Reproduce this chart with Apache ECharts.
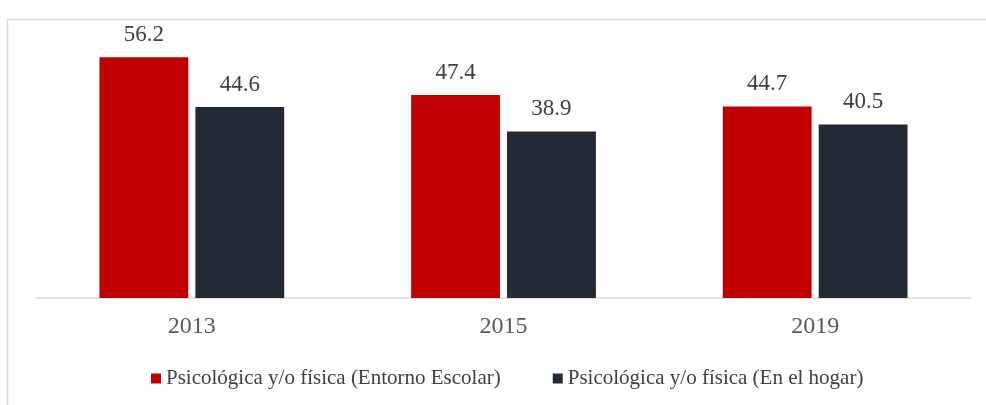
<!DOCTYPE html>
<html>
<head>
<meta charset="utf-8">
<script src="https://cdn.jsdelivr.net/npm/echarts@6/dist/echarts.min.js"></script>
<style>
  html, body { margin: 0; padding: 0; background: #fff; }
  #main { width: 986px; height: 405px; }
</style>
</head>
<body>
<div id="main"></div>
<script>
// datos
var years = ['2013', '2015', '2019'];
var escolar = [56.2, 47.4, 44.7];
var hogar = [44.6, 38.9, 40.5];
var seriesNames = ['Psicológica y/o física (Entorno Escolar)', 'Psicológica y/o física (En el hogar)'];

var myChart = echarts.init(document.getElementById('main'));

var labelStyle = {
    show: true,
    position: 'top',
    distance: 11,
    color: '#404040',
    fontFamily: 'Liberation Serif',
    fontSize: 23,
    formatter: function (p) { return p.value.toFixed(1); }
};

var option = {
    animation: false,
    textStyle: { fontFamily: 'Liberation Serif' },
    graphic: [{
        type: 'rect',
        silent: true,
        shape: { x: 7.5, y: 19.5, width: 1000, height: 400 },
        style: { fill: 'none', stroke: '#d9d9d9', lineWidth: 1.5 }
    }],
    grid: { left: 36, right: 15, top: 41, bottom: 107 },
    legend: {
        bottom: 11,
        left: 146,
        itemWidth: 10,
        itemHeight: 10,
        itemGap: 52,
        icon: 'rect',
        textStyle: { color: '#404040', fontFamily: 'Liberation Serif', fontSize: 21 },
        data: seriesNames
    },
    xAxis: {
        type: 'category',
        data: years,
        axisLine: { lineStyle: { color: '#d9d9d9', width: 1.5 } },
        axisTick: { show: false },
        axisLabel: { color: '#595959', fontFamily: 'Liberation Serif', fontSize: 24, margin: 17 }
    },
    yAxis: {
        type: 'value',
        min: 0,
        max: 60,
        show: false,
        splitLine: { show: false }
    },
    series: [
        {
            name: seriesNames[0],
            type: 'bar',
            data: escolar,
            barWidth: '28.5%',
            barGap: '8%',
            itemStyle: { color: '#C00000' },
            label: labelStyle
        },
        {
            name: seriesNames[1],
            type: 'bar',
            data: hogar,
            barWidth: '28.5%',
            itemStyle: { color: '#222A35' },
            label: labelStyle
        }
    ]
};

myChart.setOption(option);
</script>
</body>
</html>
